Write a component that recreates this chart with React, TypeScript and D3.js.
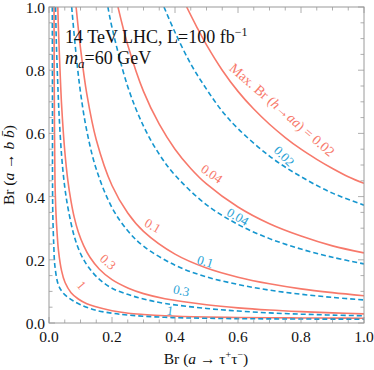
import React from 'react';
import * as d3 from 'd3';

// contour readings [Br(a->tautau), Br(a->bb)]
const red002 = [[0.437, 1.0], [0.47, 0.935], [0.5, 0.88], [0.55, 0.8], [0.6, 0.733], [0.65, 0.677], [0.7, 0.629], [0.75, 0.587], [0.8, 0.55], [0.85, 0.518], [0.9, 0.489], [0.95, 0.463], [1.0, 0.442]];
const blue002 = [[0.365, 1.0], [0.4, 0.92], [0.45, 0.82], [0.5, 0.74], [0.55, 0.67], [0.6, 0.615], [0.7, 0.528], [0.8, 0.463], [0.9, 0.411], [1.0, 0.373]];
const red004 = [[0.219, 1.0], [0.25, 0.88], [0.3, 0.733], [0.35, 0.629], [0.4, 0.55], [0.45, 0.489], [0.5, 0.44], [0.6, 0.367], [0.7, 0.314], [0.8, 0.275], [0.9, 0.244], [1.0, 0.222]];
const blue004 = [[0.187, 1.0], [0.2, 0.935], [0.25, 0.748], [0.3, 0.623], [0.35, 0.534], [0.4, 0.468], [0.5, 0.374], [0.6, 0.312], [0.7, 0.267], [0.8, 0.234], [0.9, 0.208], [1.0, 0.187]];
const red01 = [[0.086, 1.0], [0.1, 0.87], [0.12, 0.725], [0.15, 0.58], [0.2, 0.435], [0.25, 0.348], [0.3, 0.29], [0.4, 0.218], [0.5, 0.174], [0.6, 0.145], [0.7, 0.124], [0.8, 0.108], [0.9, 0.096], [1.0, 0.086]];
const blue01 = [[0.072, 1.0], [0.085, 0.86], [0.1, 0.73], [0.12, 0.608], [0.15, 0.487], [0.2, 0.365], [0.25, 0.292], [0.3, 0.243], [0.4, 0.183], [0.5, 0.146], [0.6, 0.122], [0.7, 0.104], [0.8, 0.091], [0.9, 0.081], [1.0, 0.073]];
const red03 = [[0.028, 1.0], [0.03, 0.93], [0.035, 0.8], [0.04, 0.69], [0.05, 0.545], [0.06, 0.45], [0.07, 0.385], [0.08, 0.335], [0.093, 0.288], [0.11, 0.245], [0.13, 0.208], [0.16, 0.17], [0.2, 0.137], [0.252, 0.11], [0.3, 0.093], [0.368, 0.077], [0.5, 0.058], [0.6, 0.048], [0.7, 0.041], [0.8, 0.036], [0.9, 0.032], [1.0, 0.029]];
const blue03 = [[0.021, 1.0], [0.023, 0.9], [0.027, 0.78], [0.032, 0.66], [0.04, 0.53], [0.05, 0.43], [0.061, 0.36], [0.08, 0.275], [0.1, 0.22], [0.125, 0.177], [0.16, 0.138], [0.2, 0.11], [0.252, 0.09], [0.3, 0.076], [0.368, 0.062], [0.5, 0.046], [0.6, 0.038], [0.7, 0.032], [0.8, 0.028], [0.9, 0.025], [1.0, 0.023]];
const red1 = [[0.016, 1.0], [0.0165, 0.8], [0.0175, 0.6], [0.019, 0.45], [0.022, 0.35], [0.026, 0.28], [0.03, 0.23], [0.04, 0.165], [0.051, 0.128], [0.07, 0.096], [0.093, 0.076], [0.12, 0.061], [0.146, 0.052], [0.2, 0.039], [0.252, 0.031], [0.3, 0.027], [0.368, 0.023], [0.5, 0.019], [0.6, 0.0175], [0.7, 0.0165], [0.8, 0.016], [0.9, 0.0155], [1.0, 0.015]];
const blue1 = [[0.0105, 1.0], [0.011, 0.7], [0.0112, 0.45], [0.012, 0.35], [0.015, 0.25], [0.019, 0.178], [0.03, 0.12], [0.045, 0.095], [0.072, 0.073], [0.1, 0.058], [0.146, 0.041], [0.2, 0.031], [0.252, 0.025], [0.368, 0.018], [0.5, 0.015], [0.7, 0.013], [1.0, 0.012]];

const redCurves = [red002, red004, red01, red03, red1];
const blueCurves = [blue002, blue004, blue01, blue03, blue1];

const majorTicks = [0, 0.2, 0.4, 0.6, 0.8, 1.0];
const minorTicks = d3.range(0, 1.0001, 0.05);

// contour labels: [text, x, y, angle]
const redLabels = [['0.04', 0.514, 0.468, 35], ['0.1', 0.327, 0.304, 30], ['0.3', 0.184, 0.19, 42], ['1', 0.1, 0.117, 50]];
const blueLabels = [['0.02', 0.743, 0.525, 45], ['0.04', 0.597, 0.332, 30], ['0.1', 0.495, 0.19, 17], ['0.3', 0.419, 0.098, 12], ['1', 0.384, 0.035, 8]];

const RED = '#f7796b';
const BLUE = '#1596cf';
const FRAME = '#9a9a9a';
const FONT = '"Liberation Serif", "Times New Roman", serif';

export default function App() {
  const left = 49, right = 364, top = 7, bottom = 323;
  const x = d3.scaleLinear().domain([0, 1]).range([left, right]);
  const y = d3.scaleLinear().domain([0, 1]).range([bottom, top]);
  const line = d3.line<number[]>()
    .x(d => x(d[0]))
    .y(d => y(d[1]))
    .curve(d3.curveCatmullRom.alpha(0.5));

  return (
    <svg width={374} height={370} style={{ position: 'absolute', left: 0, top: 0, background: '#fff' }} fontFamily={FONT}>
      <defs>
        <clipPath id="plot">
          <rect x={left} y={top} width={right - left} height={bottom - top} />
        </clipPath>
      </defs>

      <g clipPath="url(#plot)" fill="none">
        {redCurves.map((c, i) => (
          <path key={'r' + i} d={line(c) || ''} stroke={RED} strokeWidth={1.6} />
        ))}
        {blueCurves.map((c, i) => (
          <path key={'b' + i} d={line(c) || ''} stroke={BLUE} strokeWidth={1.6} strokeDasharray="5,3" />
        ))}
      </g>

      {/* frame and ticks */}
      <rect x={left} y={top} width={right - left} height={bottom - top} fill="none" stroke={FRAME} strokeWidth={1} />
      <g stroke={FRAME} strokeWidth={0.8}>
        {minorTicks.map(t => {
          const major = majorTicks.some(m => Math.abs(m - t) < 1e-6);
          const len = major ? 6 : 3.5;
          return (
            <g key={t}>
              <line x1={x(t)} x2={x(t)} y1={bottom} y2={bottom - len} />
              <line x1={x(t)} x2={x(t)} y1={top} y2={top + len} />
              <line x1={left} x2={left + len} y1={y(t)} y2={y(t)} />
              <line x1={right} x2={right - len} y1={y(t)} y2={y(t)} />
            </g>
          );
        })}
      </g>

      <g fontSize={15.5} fill="#111">
        {majorTicks.map(t => (
          <text key={'x' + t} x={x(t)} y={bottom + 19} textAnchor="middle">{t.toFixed(1)}</text>
        ))}
        {majorTicks.map(t => (
          <text key={'y' + t} x={left - 4} y={y(t) + 6} textAnchor="end">{t.toFixed(1)}</text>
        ))}
      </g>

      {/* axis titles */}
      <text x={206} y={364} fontSize={15.5} textAnchor="middle" fill="#111">
        Br (<tspan fontStyle="italic">a</tspan> → τ<tspan dy={-6} fontSize={10}>+</tspan><tspan dy={6}>τ</tspan><tspan dy={-6} fontSize={10}>−</tspan><tspan dy={6}>)</tspan>
      </text>
      <text transform={`translate(14,${(top + bottom) / 2}) rotate(-90)`} fontSize={15.5} textAnchor="middle" fill="#111">
        Br (<tspan fontStyle="italic">a</tspan> → <tspan fontStyle="italic">b</tspan> <tspan fontStyle="italic">{'b\u0304'}</tspan>)
      </text>

      {/* annotation */}
      <text x={65} y={43} fontSize={18} fill="#111">
        14 TeV LHC, L=100 fb<tspan dy={-7} fontSize={12}>−1</tspan>
      </text>
      <text x={65} y={64} fontSize={18} fill="#111">
        <tspan fontStyle="italic">m</tspan><tspan fontStyle="italic" fontSize={13} dy={4}>a</tspan><tspan dy={-4}>=60 GeV</tspan>
      </text>

      {/* contour labels */}
      <text transform={`translate(${x(0.737)},${y(0.671)}) rotate(41)`} fontSize={14} fill={RED} textAnchor="middle" dominantBaseline="middle">
        Max. Br (<tspan fontStyle="italic">h</tspan>→<tspan fontStyle="italic">aa</tspan>) = 0.02
      </text>
      {redLabels.map(([s, lx, ly, a]) => (
        <text key={'rl' + s} transform={`translate(${x(lx as number)},${y(ly as number)}) rotate(${a})`} fontSize={13} fill={RED} textAnchor="middle" dominantBaseline="middle">{s}</text>
      ))}
      {blueLabels.map(([s, lx, ly, a]) => (
        <text key={'bl' + s} transform={`translate(${x(lx as number)},${y(ly as number)}) rotate(${a})`} fontSize={13} fill="#2aa3d6" textAnchor="middle" dominantBaseline="middle">{s}</text>
      ))}
    </svg>
  );
}
